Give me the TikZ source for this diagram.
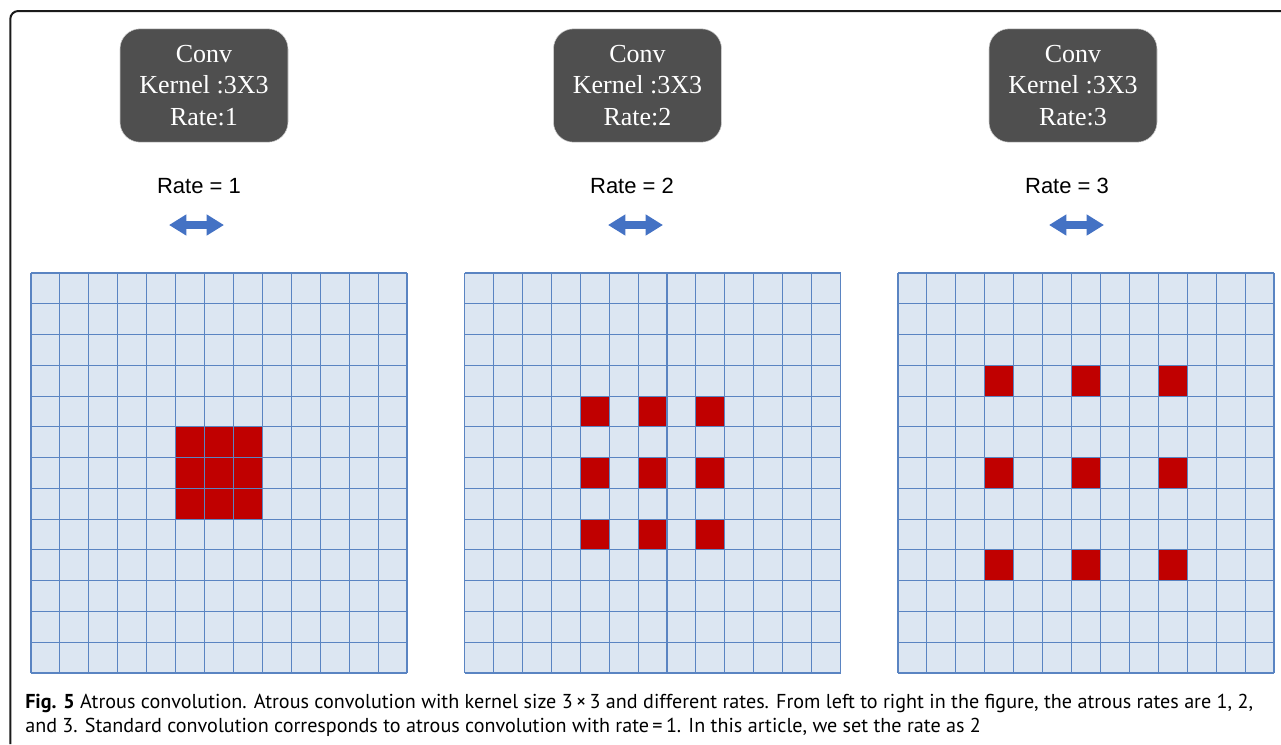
\documentclass[tikz,border=0pt]{standalone}
\usepackage{fontspec}
\setmainfont{Liberation Serif}
\newfontfamily\ratefont{Liberation Sans}
\newfontfamily\capfont{PT Sans}
\usepackage{tikz}
\usetikzlibrary{arrows.meta, positioning}
\definecolor{convgray}{HTML}{4F4F4F}
\definecolor{gridfill}{HTML}{DCE6F2}
\definecolor{gridblue}{HTML}{5A84C2}
\definecolor{kernred}{HTML}{C00000}
\definecolor{arrowblue}{HTML}{4472C4}
\definecolor{framegray}{HTML}{1A1A1A}

\begin{document}
\begin{tikzpicture}[x=0.75pt, y=-0.75pt,
    convbox/.style={fill=convgray, draw=gray!40, rounded corners=15pt,
      minimum width=126pt, minimum height=85pt, text=white, align=center,
      font=\fontsize{19.5}{23.5}\selectfont},
    ratelabel/.style={font=\ratefont\fontsize{16.5}{20}\selectfont, anchor=base},
    ratearrow/.style={arrowblue, line width=6pt,
      {Triangle[width=15pt, length=13pt]}-{Triangle[width=15pt, length=13pt]}},
    gridline/.style={gridblue, line width=0.8pt}]
    \useasboundingbox (0,0) rectangle (1281,744);

    % outer frame (top and left edge only)
    \draw[framegray, line width=1.5pt, rounded corners=6pt]
      (10.3,744) -- (10.3,11) -- (1281,11);

    % kernel boxes
    \node[convbox] (conv1) at (204,85.5) {Conv\\Kernel :3X3\\Rate:1};
    \node[convbox] (conv2) at (637.5,85.5) {Conv\\Kernel :3X3\\Rate:2};
    \node[convbox] (conv3) at (1073,85.5) {Conv\\Kernel :3X3\\Rate:3};

    \node[ratelabel] (rate1) at (199,193) {Rate = 1};
    \node[ratelabel] (rate2) at (632,193) {Rate = 2};
    \node[ratelabel] (rate3) at (1067,193) {Rate = 3};

    % double arrows
    \coordinate (a1l) at (169,225);  \coordinate (a1r) at (224,225);
    \coordinate (a2l) at (608,225);  \coordinate (a2r) at (663,225);
    \coordinate (a3l) at (1049,225); \coordinate (a3r) at (1104,225);
    \draw[ratearrow] (a1l) -- (a1r);
    \draw[ratearrow] (a2l) -- (a2r);
    \draw[ratearrow] (a3l) -- (a3r);

    % 13x13 input grids with dilated 3x3 kernel
    \def\cw{28.923}
    \def\ch{30.769}
    \foreach \gx/\r in {31/1, 464.5/2, 898/3}{
      \fill[gridfill] (\gx,273) rectangle ++(376,400);
      \foreach \i in {-1,0,1}{
        \foreach \j in {-1,0,1}{
          \fill[kernred] ({\gx+(6+\i*\r)*\cw},{273+(6+\j*\r)*\ch}) rectangle ++(\cw,\ch);
        }
      }
      \foreach \k in {0,...,13}{
        \draw[gridline] ({\gx+\k*\cw},273) -- ++(0,400);
        \draw[gridline] (\gx,{273+\k*\ch}) -- ++(376,0);
      }
    }

    % caption
    \node[font=\capfont\fontsize{15.1}{18}\selectfont, anchor=base west, inner sep=0pt]
      (cap1) at (25,708) {\textbf{Fig. 5} Atrous convolution. Atrous convolution with kernel size 3\,×\,3 and different rates. From left to right in the figure, the atrous rates are 1, 2,};
    \node[font=\capfont\fontsize{15.1}{18}\selectfont, anchor=base west, inner sep=0pt]
      (cap2) at (25,732) {and 3. Standard convolution corresponds to atrous convolution with rate\,=\,1. In this article, we set the rate as 2};
  \end{tikzpicture}
\end{document}
